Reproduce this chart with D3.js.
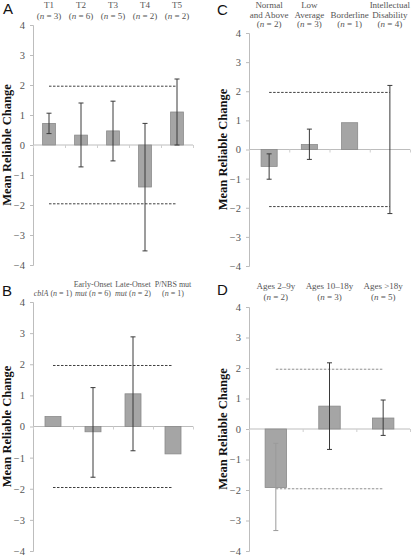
<!DOCTYPE html>
<html><head><meta charset="utf-8">
<script src="https://cdn.jsdelivr.net/npm/d3@7"></script>
<style>
body{margin:0;background:#fff}
svg{opacity:0.999}
svg text{font-family:"Liberation Serif","DejaVu Serif",serif}
svg text.letter{font-family:"Liberation Sans",Arial,sans-serif}
</style>
</head><body><svg id="c" width="411" height="555"></svg>
<script>
// ---------- DATA ----------
const yTicks = [4, 3, 2, 1, 0, -1, -2, -3, -4];
const threshold = 1.96;

// Panel A
const labelsA = [["T1", "(_n_ = 3)"], ["T2", "(_n_ = 6)"], ["T3", "(_n_ = 5)"], ["T4", "(_n_ = 2)"], ["T5", "(_n_ = 2)"]];
const valuesA = [0.72, 0.33, 0.47, -1.40, 1.10];
const lowA = [0.38, -0.73, -0.53, -3.53, 0.0];
const highA = [1.06, 1.40, 1.46, 0.72, 2.20];

// Panel B
const labelsB = [["", "_cblA_ (_n_ = 1)"], ["Early-Onset", "_mut_ (_n_ = 6)"], ["Late-Onset", "_mut_ (_n_ = 2)"], ["P/NBS mut", "(_n_ = 1)"]];
const valuesB = [0.32, -0.17, 1.05, -0.88];
const lowB = [null, -1.63, -0.78, null];
const highB = [null, 1.25, 2.88, null];

// Panel C
const labelsC = [["Normal", "and Above", "(_n_ = 2)"], ["Low", "Average", "(_n_ = 3)"], ["", "Borderline", "(_n_ = 1)"], ["Intellectual", "Disability", "(_n_ = 4)"]];
const valuesC = [-0.58, 0.17, 0.92, 0.0];
const lowC = [-1.02, -0.34, null, -2.2];
const highC = [-0.15, 0.70, null, 2.2];

// Panel D
const labelsD = [["Ages 2\u20139y", "(_n_ = 2)"], ["Ages 10\u201318y", "(_n_ = 3)"], ["Ages >18y", "(_n_ = 5)"]];
const valuesD = [-1.92, 0.75, 0.36];
const lowD = [-3.33, -0.67, -0.21];
const highD = [-0.47, 2.17, 0.95];

// ---------- LAYOUT ----------
const panels = [
  {letter: "A", labels: labelsA, values: valuesA, low: lowA, high: highA,
   x0: 33, x1: 193, yTop: 25, yBot: 265, letterX: 3, letterY: 14, labelY: [8, 19], fs: 9, titleX: 7, light: false},
  {letter: "B", labels: labelsB, values: valuesB, low: lowB, high: highB,
   x0: 33, x1: 193, yTop: 302, yBot: 551, letterX: 2, letterY: 296, labelY: [287, 296], fs: 8, titleX: 7, light: false},
  {letter: "C", labels: labelsC, values: valuesC, low: lowC, high: highC,
   x0: 249, x1: 410, yTop: 33, yBot: 266, letterX: 217, letterY: 15, labelY: [8, 18, 27], fs: 9, titleX: 223, light: false},
  {letter: "D", labels: labelsD, values: valuesD, low: lowD, high: highD,
   x0: 249, x1: 410, yTop: 307, yBot: 551, letterX: 217, letterY: 295, labelY: [289, 300], fs: 9, titleX: 223, light: true}
];

const svg = d3.select("#c");

function addRich(textSel, str) {
  const parts = str.split("_");
  parts.forEach((p, i) => {
    if (!p) return;
    textSel.append("tspan").attr("font-style", i % 2 === 1 ? "italic" : "normal").text(p);
  });
}

panels.forEach(p => {
  const g = svg.append("g");
  const y = d3.scaleLinear().domain([-4, 4]).range([p.yBot, p.yTop]);
  const cats = p.labels.map((d, i) => i);
  const x = d3.scaleBand().domain(cats).range([p.x0, p.x1]).padding(0);
  const bw = x.bandwidth() * 0.4;
  const cx = i => x(i) + x.bandwidth() / 2;

  // y axis
  const yAxis = d3.axisLeft(y).tickValues(yTicks).tickSize(3).tickPadding(5).tickFormat(d3.format("d"));
  const ga = g.append("g").attr("transform", `translate(${p.x0},0)`).call(yAxis);
  ga.attr("font-family", null);
  ga.select(".domain").attr("stroke", "#bdbdbd");
  ga.selectAll(".tick line").attr("stroke", "#bdbdbd");
  ga.selectAll(".tick text").attr("fill", "#555").attr("font-size", 10.5);

  // x axis at 0
  const xa = d3.axisBottom(d3.scaleLinear().domain([p.x0, p.x1]).range([p.x0, p.x1]))
    .tickValues(cats.map(i => x(i) + x.bandwidth()).concat([p.x0]))
    .tickSize(3).tickFormat("");
  const gx = g.append("g").attr("transform", `translate(0,${y(0)})`).call(xa);
  gx.select(".domain").attr("stroke", "#bdbdbd").attr("d", `M${p.x0},0H${p.x1}`);
  gx.selectAll(".tick line").attr("stroke", "#cfcfcf");

  // bars
  g.selectAll("rect.bar").data(p.values).join("rect")
    .attr("x", (d, i) => cx(i) - bw / 2)
    .attr("y", d => Math.min(y(d), y(0)))
    .attr("width", bw)
    .attr("height", d => Math.abs(y(d) - y(0)))
    .attr("fill", "#a5a5a5").attr("stroke", "#8a8a8a").attr("stroke-width", 0.8);

  // dashed threshold lines
  [threshold, -threshold].forEach(t => {
    g.append("line")
      .attr("x1", cx(0)).attr("x2", cx(cats.length - 1))
      .attr("y1", y(t)).attr("y2", y(t))
      .attr("stroke", p.light ? "#8f8f8f" : "#404040").attr("stroke-width", 1)
      .attr("stroke-dasharray", "2.5,1.5");
  });

  // error bars
  p.values.forEach((v, i) => {
    if (p.low[i] === null) return;
    const col = (p.light && i === 0) ? "#9a9a9a" : "#3a3a3a";
    const xc = cx(i);
    g.append("line").attr("x1", xc).attr("x2", xc).attr("y1", y(p.low[i])).attr("y2", y(p.high[i]))
      .attr("stroke", col).attr("stroke-width", 1);
    [p.low[i], p.high[i]].forEach(e => {
      g.append("line").attr("x1", xc - 2.5).attr("x2", xc + 2.5).attr("y1", y(e)).attr("y2", y(e))
        .attr("stroke", col).attr("stroke-width", 1);
    });
  });

  // category labels
  p.labels.forEach((lines, i) => {
    lines.forEach((ln, k) => {
      if (!ln) return;
      const t = g.append("text").attr("x", cx(i)).attr("y", p.labelY[k])
        .attr("text-anchor", "middle").attr("font-size", p.fs).attr("fill", "#555");
      addRich(t, ln);
    });
  });

  // y title
  g.append("text")
    .attr("transform", `translate(${p.titleX + 4},${y(0)}) rotate(-90)`)
    .attr("text-anchor", "middle").attr("font-weight", "bold")
    .attr("font-size", 12.5).attr("fill", "#111").text("Mean Reliable Change");

  // panel letter
  g.append("text").attr("class", "letter").attr("x", p.letterX).attr("y", p.letterY)
    .attr("font-size", 15).attr("fill", "#111").text(p.letter);
});
</script></body></html>
